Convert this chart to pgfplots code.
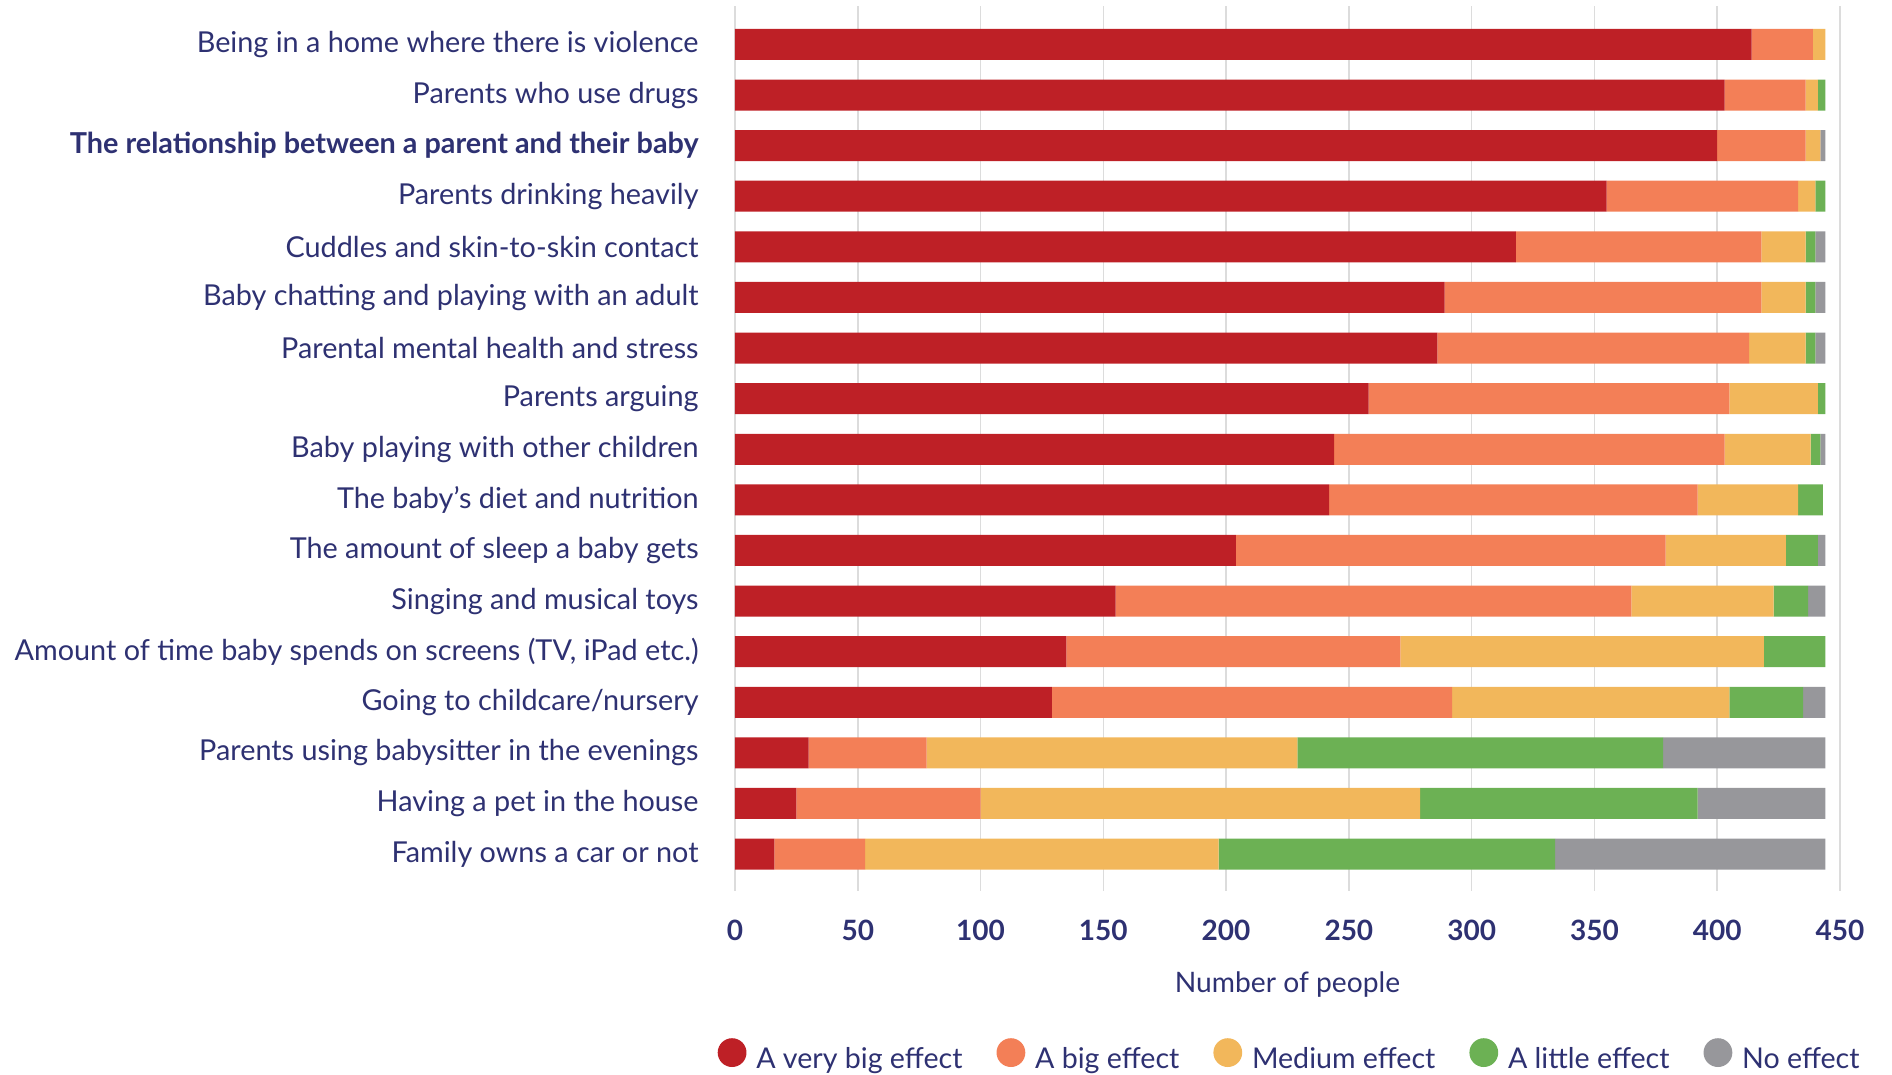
\documentclass[border=0pt]{standalone}
\usepackage{fontspec}
\setmainfont{Lato}
\usepackage{pgfplots}
\pgfplotsset{compat=1.18}
\definecolor{navy}{HTML}{2E3172}
\definecolor{cRed}{HTML}{BE2026}
\definecolor{cOrange}{HTML}{F37F57}
\definecolor{cYellow}{HTML}{F2B75B}
\definecolor{cGreen}{HTML}{6CB154}
\definecolor{cGray}{HTML}{97979B}
\definecolor{gridgray}{HTML}{DCDCDC}
\pgfplotsset{circle legend/.style={legend image code/.code={\fill[##1,/tikz/.cd,draw=none] (0pt,0.36em) circle (7.2pt);}}}
\begin{document}
\begin{tikzpicture}
\useasboundingbox (-367.5pt,-92pt) rectangle (578.5pt,445.5pt);
\begin{axis}[
  at={(0,0)}, anchor=south west,
  scale only axis, width=552.5pt, height=442.5pt,
  xbar stacked, bar width=15.5pt,
  xmin=0, xmax=450, ymin=-0.73, ymax=16.76,
  xtick={0,50,...,450}, ytick={0,...,16},
  yticklabels={Family owns a car or not, Having a pet in the house, Parents using babysitter in the evenings, Going to childcare/nursery, {Amount of time baby spends on screens (TV, iPad etc.)}, Singing and musical toys, The amount of sleep a baby gets, The baby’s diet and nutrition, Baby playing with other children, Parents arguing, Parental mental health and stress, Baby chatting and playing with an adult, Cuddles and skin-to-skin contact, Parents drinking heavily, \textbf{The relationship between a parent and their baby}, Parents who use drugs, Being in a home where there is violence},
  xmajorgrids, ymajorgrids=false, grid style={color=gridgray, line width=0.75pt},
  axis line style={draw=none}, tick style={draw=none},
  /pgf/number format/assume math mode=true,
  xticklabel style={font=\fontsize{14}{16}\selectfont\bfseries, text=navy, anchor=center, yshift=-19.5pt},
  yticklabel style={font=\fontsize{14.4}{16}\selectfont, text=navy, anchor=east, inner sep=0pt, xshift=-18pt},
  xlabel={Number of people},
  every axis x label/.style={at={(axis description cs:0.5,0)}, anchor=center, yshift=-47pt, font=\fontsize{14.1}{16}\selectfont, text=navy},
  legend columns=5,
  legend style={draw=none, fill=none, at={(axis description cs:-0.016,-0.1876)}, anchor=west, inner sep=0pt, font=\fontsize{14.3}{16}\selectfont, text=navy,
    /tikz/every odd column/.append style={column sep=2.9pt},
    /tikz/every even column/.append style={column sep=15pt}},
  every axis plot post/.append style={circle legend},
]
\addplot[fill=cRed, draw=none] coordinates {(414,16) (403,15) (400,14) (355,13) (318,12) (289,11) (286,10) (258,9) (244,8) (242,7) (204,6) (155,5) (135,4) (129,3) (30,2) (25,1) (16,0)};
\addlegendentry{A very big effect}
\addplot[fill=cOrange, draw=none] coordinates {(25,16) (33,15) (36,14) (78,13) (100,12) (129,11) (127,10) (147,9) (159,8) (150,7) (175,6) (210,5) (136,4) (163,3) (48,2) (75,1) (37,0)};
\addlegendentry{A big effect}
\addplot[fill=cYellow, draw=none] coordinates {(5,16) (5,15) (6,14) (7,13) (18,12) (18,11) (23,10) (36,9) (35,8) (41,7) (49,6) (58,5) (148,4) (113,3) (151,2) (179,1) (144,0)};
\addlegendentry{Medium effect}
\addplot[fill=cGreen, draw=none] coordinates {(0,16) (3,15) (0,14) (4,13) (4,12) (4,11) (4,10) (3,9) (4,8) (10,7) (13,6) (14,5) (25,4) (30,3) (149,2) (113,1) (137,0)};
\addlegendentry{A little effect}
\addplot[fill=cGray, draw=none] coordinates {(0,16) (0,15) (2,14) (0,13) (4,12) (4,11) (4,10) (0,9) (2,8) (0,7) (3,6) (7,5) (0,4) (9,3) (66,2) (52,1) (110,0)};
\addlegendentry{No effect}
\end{axis}
\end{tikzpicture}
\end{document}
